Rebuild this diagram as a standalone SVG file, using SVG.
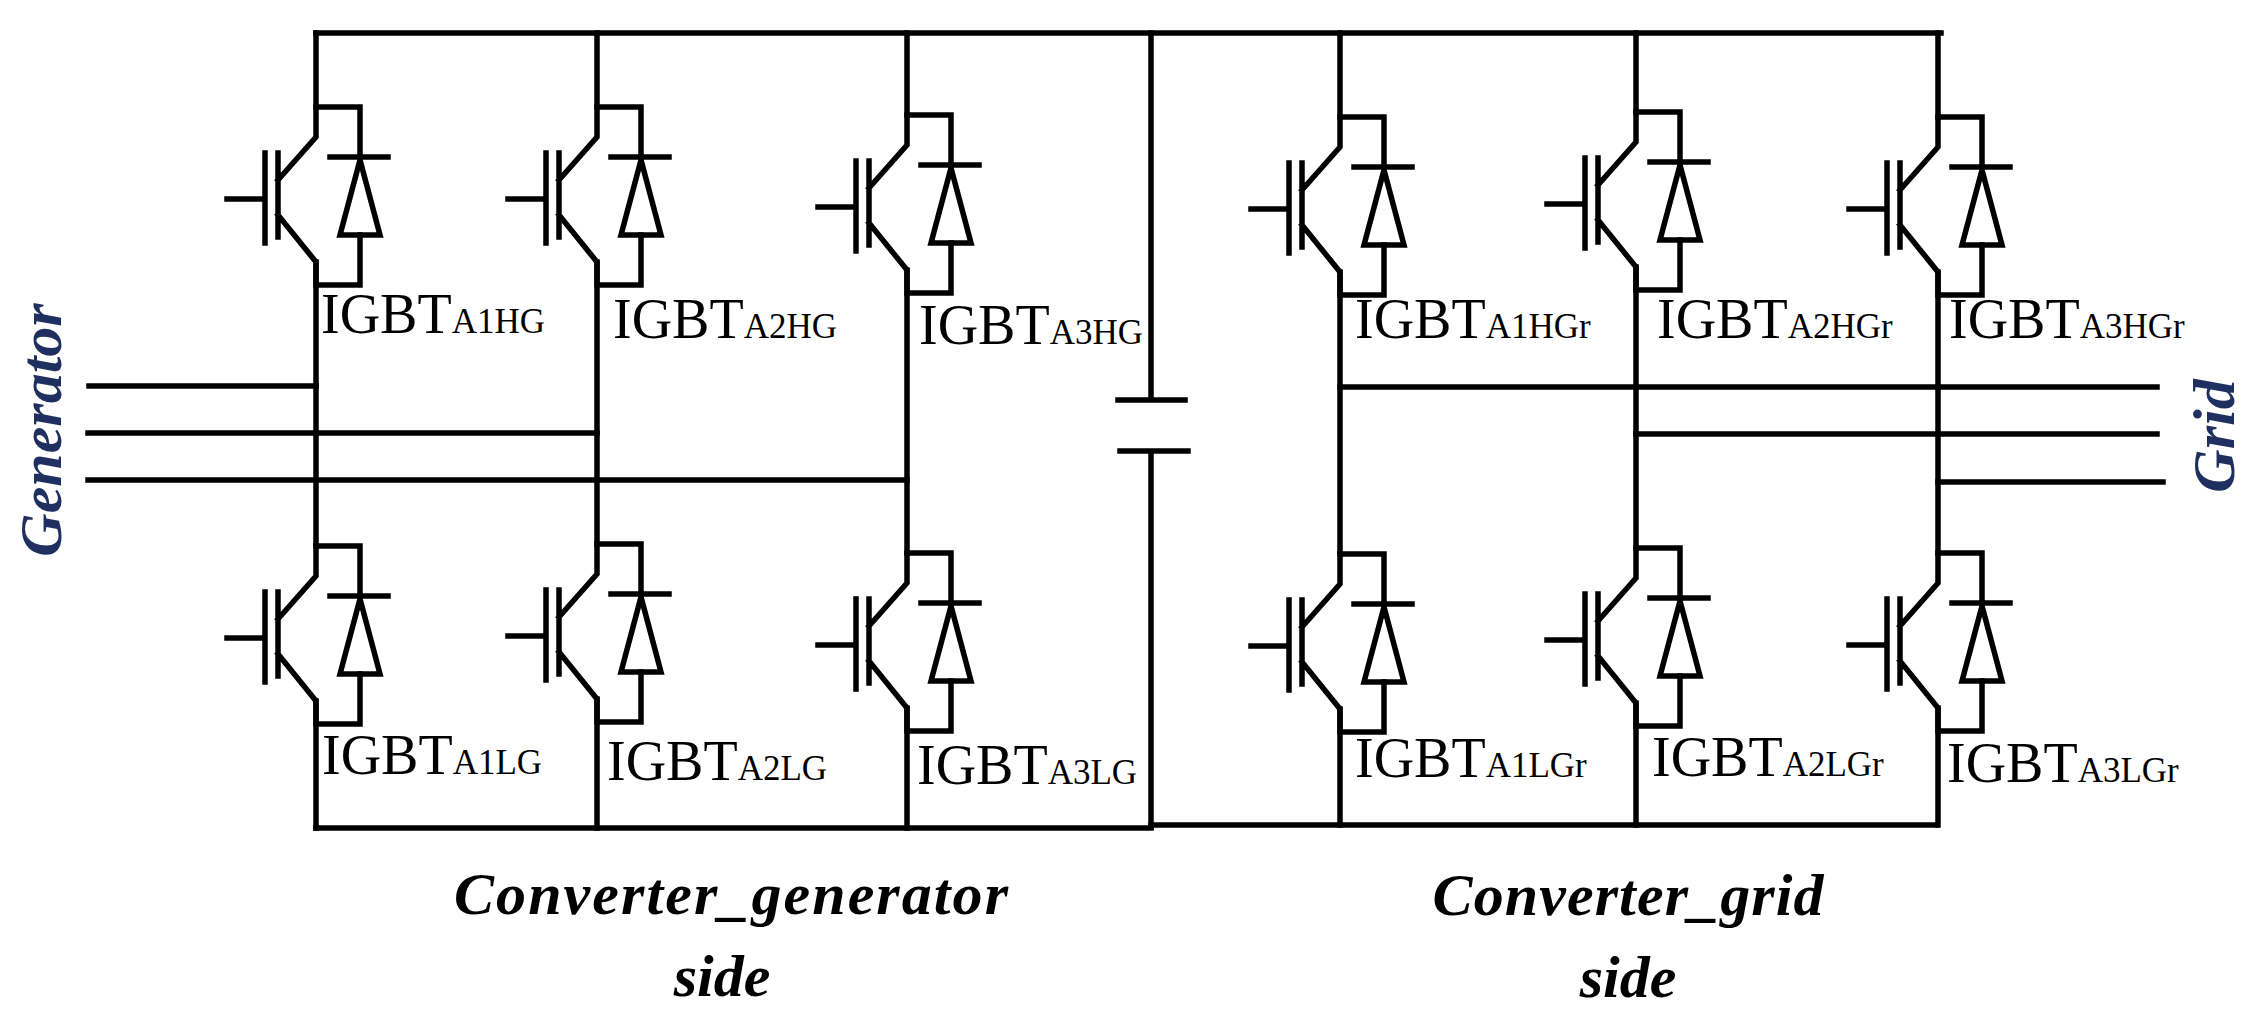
<svg xmlns="http://www.w3.org/2000/svg" width="2257" height="1024" viewBox="0 0 2257 1024">
<style>
.w{fill:none;stroke:#000;stroke-width:5.5;stroke-linecap:square}
.lbl{font-family:"Liberation Serif",serif;font-size:56px;fill:#000}
.sub{font-size:35px}
.title{font-family:"Liberation Serif",serif;font-weight:bold;font-style:italic;font-size:60px;fill:#000}
.side{font-family:"Liberation Serif",serif;font-weight:bold;font-style:italic;font-size:60px;fill:#1f2f5f}
</style>
<defs>
<g id="igbt" class="w">
<path d="M0,0 V30 L-38,73 M-38,46 V130 M-51,46 V136 M-89,92 H-51 M-38,108 L0,155 V178 H44 V128 M0,0 H44 V50 M14,50 H72"/>
<path d="M44,53 L24,128 H64 Z"/>
</g>
</defs>
<rect width="2257" height="1024" fill="#fff"/>
<g id="connectors" class="w">
<path d="M316,33 H1941 M316,828 H1151 M1151,825 H1936"/>
<path d="M316,33 V107 M316,262 V546 M316,701 V828"/>
<path d="M597,33 V107 M597,262 V544 M597,699 V828"/>
<path d="M907,33 V115 M907,270 V553 M907,708 V828"/>
<path d="M1340,33 V117 M1340,272 V554 M1340,709 V825"/>
<path d="M1636,33 V112 M1636,267 V548 M1636,703 V825"/>
<path d="M1938,33 V117 M1938,272 V553 M1938,708 V825"/>
<path d="M89,386 H316 M88,433 H597 M88,480 H907"/>
<path d="M1340,387 H2157 M1636,434 H2157 M1938,482 H2163"/>
<path d="M1151,33 V400 M1118,400 H1185 M1120,451 H1188 M1151,451 V827"/>
</g>
<g id="A1HG"><use href="#igbt" x="316" y="107"/><text class="lbl" x="321" y="333">IGBT<tspan class="sub">A1HG</tspan></text></g>
<g id="A2HG"><use href="#igbt" x="597" y="107"/><text class="lbl" x="613" y="338">IGBT<tspan class="sub">A2HG</tspan></text></g>
<g id="A3HG"><use href="#igbt" x="907" y="115"/><text class="lbl" x="919" y="344">IGBT<tspan class="sub">A3HG</tspan></text></g>
<g id="A1LG"><use href="#igbt" x="316" y="546"/><text class="lbl" x="322" y="774">IGBT<tspan class="sub">A1LG</tspan></text></g>
<g id="A2LG"><use href="#igbt" x="597" y="544"/><text class="lbl" x="607" y="780">IGBT<tspan class="sub">A2LG</tspan></text></g>
<g id="A3LG"><use href="#igbt" x="907" y="553"/><text class="lbl" x="917" y="784">IGBT<tspan class="sub">A3LG</tspan></text></g>
<g id="A1HGr"><use href="#igbt" x="1340" y="117"/><text class="lbl" x="1355" y="338">IGBT<tspan class="sub">A1HGr</tspan></text></g>
<g id="A2HGr"><use href="#igbt" x="1636" y="112"/><text class="lbl" x="1657" y="338">IGBT<tspan class="sub">A2HGr</tspan></text></g>
<g id="A3HGr"><use href="#igbt" x="1938" y="117"/><text class="lbl" x="1949" y="338">IGBT<tspan class="sub">A3HGr</tspan></text></g>
<g id="A1LGr"><use href="#igbt" x="1340" y="554"/><text class="lbl" x="1355" y="777">IGBT<tspan class="sub">A1LGr</tspan></text></g>
<g id="A2LGr"><use href="#igbt" x="1636" y="548"/><text class="lbl" x="1652" y="776">IGBT<tspan class="sub">A2LGr</tspan></text></g>
<g id="A3LGr"><use href="#igbt" x="1938" y="553"/><text class="lbl" x="1947" y="782">IGBT<tspan class="sub">A3LGr</tspan></text></g>
<g id="generator"><text class="side" transform="translate(61,430) rotate(-90)" text-anchor="middle">Generator</text></g>
<g id="grid"><text class="side" transform="translate(2234,436) rotate(-90)" text-anchor="middle">Grid</text></g>
<g id="conv_gen"><text class="title" x="731" y="914" text-anchor="middle" textLength="554">Converter_generator</text><text class="title" x="722" y="996" text-anchor="middle">side</text></g>
<g id="conv_grid"><text class="title" x="1628" y="915" text-anchor="middle" textLength="391">Converter_grid</text><text class="title" x="1628" y="997" text-anchor="middle">side</text></g>
</svg>
